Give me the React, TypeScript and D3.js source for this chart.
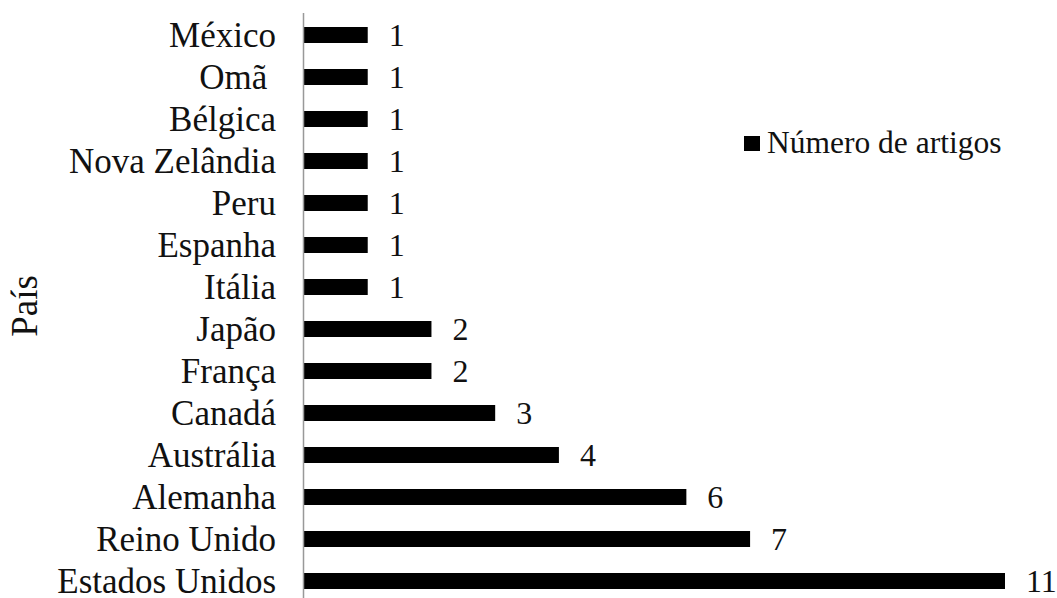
import React from "react";
import * as d3 from "d3";

const countries = [
  "México",
  "Omã ",
  "Bélgica",
  "Nova Zelândia",
  "Peru",
  "Espanha",
  "Itália",
  "Japão",
  "França",
  "Canadá",
  "Austrália",
  "Alemanha",
  "Reino Unido",
  "Estados Unidos",
];
const articles = [1, 1, 1, 1, 1, 1, 1, 2, 2, 3, 4, 6, 7, 11];
const seriesName = "Número de artigos";
const axisTitle = "País";

const W = 1057;
const H = 598;
const FONT = "Liberation Serif, DejaVu Serif, serif";

export default function App() {
  const x = d3.scaleLinear().domain([0, 11]).range([304, 1005]);
  const y = d3
    .scaleBand<string>()
    .domain(countries)
    .range([14, 602])
    .paddingInner(0.619)
    .paddingOuter(0.3095);
  const bh = y.bandwidth();
  const ts = { fontFamily: FONT, whiteSpace: "pre" as const };

  return (
    <svg
      width={W}
      height={H}
      style={{ position: "absolute", left: 0, top: 0, background: "#fff" }}
    >
      <rect x={0} y={0} width={W} height={H} fill="#fff" />
      {countries.map((c, i) => {
        const yc = (y(c) as number) + bh / 2;
        return (
          <g key={c}>
            <rect x={x(0)} y={yc - bh / 2} width={x(articles[i]) - x(0)} height={bh} fill="#000" />
            <text x={276} y={yc} dy="0.33em" textAnchor="end" fontSize={35} fill="#111" style={ts}>
              {c}
            </text>
            <text x={x(articles[i]) + 21} y={yc} dy="0.33em" fontSize={32} fill="#111" style={ts}>
              {articles[i]}
            </text>
          </g>
        );
      })}
      <line x1={303.5} x2={303.5} y1={13} y2={H} stroke="#999" strokeWidth={1.5} />
      <text
        transform={`translate(37,306) rotate(-90)`}
        textAnchor="middle"
        fontSize={37}
        fill="#111"
        style={ts}
      >
        {axisTitle}
      </text>
      <rect x={744} y={136} width={16} height={15} fill="#000" />
      <text x={767} y={153} fontSize={31.5} fill="#111" style={ts}>
        {seriesName}
      </text>
    </svg>
  );
}
